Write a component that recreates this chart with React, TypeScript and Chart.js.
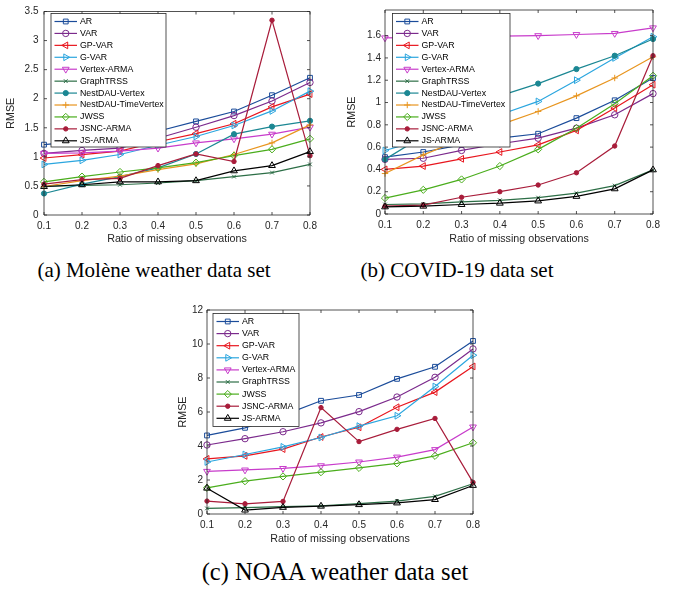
import React, { useEffect, useRef } from 'react';
import { Chart, registerables } from 'chart.js';
import { drawPoint } from 'chart.js/helpers';

Chart.register(...registerables);

// ---------- shared axis values ----------
const ratios = [0.1, 0.2, 0.3, 0.4, 0.5, 0.6, 0.7, 0.8];
const xTickLabels = ['0.1', '0.2', '0.3', '0.4', '0.5', '0.6', '0.7', '0.8'];
const xTitle = 'Ratio of missing observations';
const yTitle = 'RMSE';

// ---------- (a) Molène weather data set ----------
const moleneYTicks = [0, 0.5, 1, 1.5, 2, 2.5, 3, 3.5];
const moleneAR = [1.21, 1.27, 1.34, 1.44, 1.61, 1.78, 2.06, 2.36];
const moleneVAR = [1.06, 1.11, 1.15, 1.32, 1.51, 1.71, 1.96, 2.28];
const moleneGPVAR = [0.98, 1.04, 1.1, 1.26, 1.4, 1.57, 1.86, 2.08];
const moleneGVAR = [0.87, 0.94, 1.04, 1.2, 1.35, 1.54, 1.79, 2.13];
const moleneVertexARMA = [1.06, 1.07, 1.1, 1.15, 1.24, 1.31, 1.39, 1.51];
const moleneGraphTRSS = [0.49, 0.51, 0.52, 0.55, 0.59, 0.66, 0.73, 0.87];
const moleneNestDAUVertex = [0.37, 0.53, 0.66, 0.81, 1.05, 1.39, 1.52, 1.62];
const moleneNestDAUTimeVertex = [0.49, 0.59, 0.67, 0.78, 0.88, 1.04, 1.24, 1.55];
const moleneJWSS = [0.57, 0.66, 0.74, 0.81, 0.9, 1.02, 1.13, 1.31];
const moleneJSNCARMA = [0.53, 0.61, 0.63, 0.85, 1.05, 0.92, 3.35, 1.02];
const moleneJSARMA = [0.49, 0.52, 0.57, 0.57, 0.59, 0.76, 0.85, 1.09];

// ---------- (b) COVID-19 data set ----------
const covidYTicks = [0, 0.2, 0.4, 0.6, 0.8, 1, 1.2, 1.4, 1.6];
const covidAR = [0.51, 0.556, 0.62, 0.68, 0.72, 0.86, 1.02, 1.22];
const covidVAR = [0.49, 0.5, 0.57, 0.63, 0.68, 0.77, 0.89, 1.08];
const covidGPVAR = [0.4, 0.43, 0.495, 0.556, 0.62, 0.75, 0.95, 1.16];
const covidGVAR = [0.57, 0.67, 0.78, 0.89, 1.01, 1.2, 1.4, 1.59];
const covidVertexARMA = [1.58, 1.585, 1.59, 1.595, 1.6, 1.61, 1.62, 1.67];
const covidGraphTRSS = [0.085, 0.09, 0.108, 0.123, 0.147, 0.187, 0.255, 0.396];
const covidNestDAUVertex = [0.49, 0.7, 0.9, 1.06, 1.17, 1.3, 1.42, 1.57];
const covidNestDAUTimeVertex = [0.363, 0.53, 0.67, 0.8, 0.92, 1.06, 1.22, 1.41];
const covidJWSS = [0.143, 0.217, 0.31, 0.43, 0.58, 0.77, 0.99, 1.24];
const covidJSNCARMA = [0.07, 0.08, 0.15, 0.2, 0.26, 0.37, 0.61, 1.42];
const covidJSARMA = [0.064, 0.07, 0.085, 0.097, 0.117, 0.158, 0.226, 0.396];

// ---------- (c) NOAA weather data set ----------
const noaaYTicks = [0, 2, 4, 6, 8, 10, 12];
const noaaAR = [4.62, 5.07, 5.8, 6.66, 7.0, 7.95, 8.66, 10.18];
const noaaVAR = [4.06, 4.43, 4.84, 5.36, 6.02, 6.88, 8.04, 9.71];
const noaaGPVAR = [3.24, 3.42, 3.82, 4.53, 5.1, 6.28, 7.17, 8.68];
const noaaGVAR = [3.06, 3.5, 3.95, 4.5, 5.17, 5.78, 7.5, 9.34];
const noaaVertexARMA = [2.51, 2.59, 2.68, 2.84, 3.06, 3.35, 3.79, 5.12];
const noaaGraphTRSS = [0.33, 0.38, 0.43, 0.48, 0.61, 0.76, 1.04, 1.78];
const noaaJWSS = [1.54, 1.93, 2.21, 2.46, 2.71, 2.98, 3.42, 4.19];
const noaaJSNCARMA = [0.76, 0.6, 0.74, 6.26, 4.26, 4.98, 5.62, 1.86];
const noaaJSARMA = [1.52, 0.23, 0.39, 0.46, 0.55, 0.65, 0.85, 1.68];

// ---------- captions ----------
const captionA = '(a) Molène weather data set';
const captionB = '(b) COVID-19 data set';
const captionC = '(c) NOAA weather data set';

// ---------- styles (marker / colour per method) ----------
type Style = { color: string; shape: string; rot: number; r: number; fill: boolean };
const STYLES: Record<string, Style> = {
  'AR': { color: '#1b4c9a', shape: 'rect', rot: 0, r: 3.4, fill: false },
  'VAR': { color: '#7b2a8c', shape: 'circle', rot: 0, r: 3.2, fill: false },
  'GP-VAR': { color: '#e8161e', shape: 'triangle', rot: -90, r: 3.9, fill: false },
  'G-VAR': { color: '#2ba6df', shape: 'triangle', rot: 90, r: 3.9, fill: false },
  'Vertex-ARMA': { color: '#c83ccb', shape: 'triangle', rot: 180, r: 3.9, fill: false },
  'GraphTRSS': { color: '#2c6e46', shape: 'crossRot', rot: 0, r: 2.6, fill: false },
  'NestDAU-Vertex': { color: '#1b8793', shape: 'circle', rot: 0, r: 2.6, fill: true },
  'NestDAU-TimeVertex': { color: '#e8951f', shape: 'cross', rot: 0, r: 3.2, fill: false },
  'JWSS': { color: '#4aad1c', shape: 'rectRot', rot: 0, r: 3.6, fill: false },
  'JSNC-ARMA': { color: '#a81c3a', shape: 'circle', rot: 0, r: 2.2, fill: true },
  'JS-ARMA': { color: '#000000', shape: 'triangle', rot: 0, r: 3.9, fill: false },
};

const seriesA = [
  { name: 'AR', values: moleneAR },
  { name: 'VAR', values: moleneVAR },
  { name: 'GP-VAR', values: moleneGPVAR },
  { name: 'G-VAR', values: moleneGVAR },
  { name: 'Vertex-ARMA', values: moleneVertexARMA },
  { name: 'GraphTRSS', values: moleneGraphTRSS },
  { name: 'NestDAU-Vertex', values: moleneNestDAUVertex },
  { name: 'NestDAU-TimeVertex', values: moleneNestDAUTimeVertex },
  { name: 'JWSS', values: moleneJWSS },
  { name: 'JSNC-ARMA', values: moleneJSNCARMA },
  { name: 'JS-ARMA', values: moleneJSARMA },
];
const seriesB = [
  { name: 'AR', values: covidAR },
  { name: 'VAR', values: covidVAR },
  { name: 'GP-VAR', values: covidGPVAR },
  { name: 'G-VAR', values: covidGVAR },
  { name: 'Vertex-ARMA', values: covidVertexARMA },
  { name: 'GraphTRSS', values: covidGraphTRSS },
  { name: 'NestDAU-Vertex', values: covidNestDAUVertex },
  { name: 'NestDAU-TimeVertex', values: covidNestDAUTimeVertex },
  { name: 'JWSS', values: covidJWSS },
  { name: 'JSNC-ARMA', values: covidJSNCARMA },
  { name: 'JS-ARMA', values: covidJSARMA },
];
const seriesC = [
  { name: 'AR', values: noaaAR },
  { name: 'VAR', values: noaaVAR },
  { name: 'GP-VAR', values: noaaGPVAR },
  { name: 'G-VAR', values: noaaGVAR },
  { name: 'Vertex-ARMA', values: noaaVertexARMA },
  { name: 'GraphTRSS', values: noaaGraphTRSS },
  { name: 'JWSS', values: noaaJWSS },
  { name: 'JSNC-ARMA', values: noaaJSNCARMA },
  { name: 'JS-ARMA', values: noaaJSARMA },
];

const SANS = '"Liberation Sans", Arial, Helvetica, sans-serif';
const AXIS_COLOR = '#262626';

function fmt(v: number) {
  return String(Math.round(v * 100) / 100);
}

// box + inward ticks (MATLAB style)
const framePlugin = {
  id: 'mframe',
  afterDatasetsDraw(chart: any) {
    const { ctx, chartArea } = chart;
    const { left, right, top, bottom } = chartArea;
    const xs = chart.scales.x;
    const ys = chart.scales.y;
    const tl = 3;
    ctx.save();
    ctx.strokeStyle = AXIS_COLOR;
    ctx.lineWidth = 0.8;
    ctx.beginPath();
    ctx.rect(left, top, right - left, bottom - top);
    for (const t of xs.ticks) {
      const px = xs.getPixelForValue(t.value);
      ctx.moveTo(px, bottom);
      ctx.lineTo(px, bottom - tl);
      ctx.moveTo(px, top);
      ctx.lineTo(px, top + tl);
    }
    for (const t of ys.ticks) {
      const py = ys.getPixelForValue(t.value);
      ctx.moveTo(left, py);
      ctx.lineTo(left + tl, py);
      ctx.moveTo(right, py);
      ctx.lineTo(right - tl, py);
    }
    ctx.stroke();
    ctx.restore();
  },
};

// MATLAB-like legend box inside the axes
const legendPlugin = {
  id: 'mlegend',
  afterDraw(chart: any, _args: any, opts: any) {
    if (!opts || !opts.box) return;
    const { ctx } = chart;
    const b = opts.box;
    ctx.save();
    ctx.fillStyle = '#ffffff';
    ctx.fillRect(b.x, b.y, b.w, b.h);
    ctx.strokeStyle = AXIS_COLOR;
    ctx.lineWidth = 0.8;
    ctx.strokeRect(b.x, b.y, b.w, b.h);
    ctx.font = `${opts.fontSize}px ${SANS}`;
    ctx.textBaseline = 'middle';
    ctx.textAlign = 'left';
    chart.data.datasets.forEach((ds: any, i: number) => {
      const st = STYLES[ds.label];
      const y = b.y + opts.firstDy + i * opts.rowH;
      const x1 = b.x + opts.lineX1;
      const x2 = b.x + opts.lineX2;
      ctx.strokeStyle = st.color;
      ctx.lineWidth = 1.2;
      ctx.beginPath();
      ctx.moveTo(x1, y);
      ctx.lineTo(x2, y);
      ctx.stroke();
      ctx.lineWidth = 1;
      ctx.fillStyle = st.fill ? st.color : 'rgba(0,0,0,0)';
      drawPoint(ctx, { pointStyle: st.shape, rotation: st.rot, radius: st.r, borderWidth: 1 } as any, (x1 + x2) / 2, y);
      ctx.fillStyle = '#000000';
      ctx.fillText(ds.label, b.x + opts.textX, y);
    });
    ctx.restore();
  },
};

type Panel = {
  series: { name: string; values: number[] }[];
  yTicks: number[];
  yMax: number;
  left: number;
  top: number;
  width: number;
  height: number;
  yAxisW: number;
  xAxisH: number;
  padTop: number;
  padRight: number;
  yTickPad: number;
  yTitlePad: number;
  legend: any;
};

function MatlabPlot({ p }: { p: Panel }) {
  const ref = useRef<HTMLCanvasElement | null>(null);
  useEffect(() => {
    if (!ref.current) return;
    const n = p.series.length;
    const datasets = p.series.map((s, i) => {
      const st = STYLES[s.name];
      return {
        label: s.name,
        data: ratios.map((x, j) => ({ x, y: s.values[j] })),
        borderColor: st.color,
        backgroundColor: st.fill ? st.color : 'rgba(0,0,0,0)',
        borderWidth: 1.2,
        pointStyle: st.shape,
        pointRotation: st.rot,
        pointRadius: st.r,
        pointBorderWidth: 1,
        pointBorderColor: st.color,
        pointBackgroundColor: st.fill ? st.color : 'rgba(0,0,0,0)',
        tension: 0,
        fill: false,
        clip: false,
        order: n - i,
      };
    });
    const tickFont = { family: SANS, size: 10 };
    const titleFont = { family: SANS, size: 10.7 };
    const chart = new Chart(ref.current, {
      type: 'line',
      data: { datasets },
      options: {
        animation: false,
        responsive: false,
        maintainAspectRatio: false,
        devicePixelRatio: 1,
        events: [],
        layout: { padding: { left: 0, right: p.padRight, top: p.padTop, bottom: 0 } },
        plugins: {
          legend: { display: false },
          tooltip: { enabled: false },
          mlegend: p.legend,
        },
        scales: {
          x: {
            type: 'linear',
            min: 0.1,
            max: 0.8,
            afterBuildTicks: (s: any) => {
              s.ticks = ratios.map((v) => ({ value: v }));
            },
            afterFit: (s: any) => {
              s.height = p.xAxisH;
            },
            grid: { display: false, drawTicks: false, tickLength: 0 },
            border: { display: false },
            ticks: {
              padding: 5,
              color: AXIS_COLOR,
              font: tickFont,
              maxRotation: 0,
              autoSkip: false,
              callback: (v: any) => {
                const idx = ratios.findIndex((r) => Math.abs(r - Number(v)) < 1e-9);
                return idx >= 0 ? xTickLabels[idx] : '';
              },
            },
            title: {
              display: true,
              text: xTitle,
              color: AXIS_COLOR,
              font: titleFont,
              padding: { top: 0, bottom: 4.6 },
            },
          },
          y: {
            type: 'linear',
            min: 0,
            max: p.yMax,
            afterBuildTicks: (s: any) => {
              s.ticks = p.yTicks.map((v) => ({ value: v }));
            },
            afterFit: (s: any) => {
              s.width = p.yAxisW;
            },
            grid: { display: false, drawTicks: false, tickLength: 0 },
            border: { display: false },
            ticks: {
              padding: p.yTickPad,
              color: AXIS_COLOR,
              font: tickFont,
              autoSkip: false,
              callback: (v: any) => fmt(Number(v)),
            },
            title: {
              display: true,
              text: yTitle,
              color: AXIS_COLOR,
              font: titleFont,
              padding: { top: p.yTitlePad, bottom: 0 },
            },
          },
        },
      } as any,
      plugins: [framePlugin, legendPlugin],
    });
    return () => chart.destroy();
  }, [p]);
  return (
    <canvas
      ref={ref}
      width={p.width}
      height={p.height}
      style={{ position: 'absolute', left: p.left, top: p.top, width: p.width, height: p.height }}
    />
  );
}

const legendCommon = { fontSize: 8.8, firstDy: 8, rowH: 11.93, lineX1: 3.5, lineX2: 26, textX: 29 };

const panelA: Panel = {
  series: seriesA,
  yTicks: moleneYTicks,
  yMax: 3.5,
  left: 0,
  top: 0,
  width: 330,
  height: 250,
  yAxisW: 44,
  xAxisH: 35,
  padTop: 7,
  padRight: 20,
  yTickPad: 5.5,
  yTitlePad: 4.6,
  legend: { ...legendCommon, box: { x: 51, y: 13.5, w: 115, h: 133.5 } },
};

const panelB: Panel = {
  series: seriesB,
  yTicks: covidYTicks,
  yMax: 1.83,
  left: 340,
  top: 0,
  width: 338,
  height: 250,
  yAxisW: 45,
  xAxisH: 36,
  padTop: 6,
  padRight: 25,
  yTickPad: 4,
  yTitlePad: 5.3,
  legend: { ...legendCommon, box: { x: 392.5 - 340, y: 13.5, w: 117.5, h: 133.5 } },
};

const panelC: Panel = {
  series: seriesC,
  yTicks: noaaYTicks,
  yMax: 12,
  left: 172,
  top: 300,
  width: 323,
  height: 250,
  yAxisW: 35,
  xAxisH: 36,
  padTop: 8,
  padRight: 22,
  yTickPad: 4,
  yTitlePad: 5.1,
  legend: { ...legendCommon, rowH: 12.1, box: { x: 213 - 172, y: 313.5 - 300, w: 86, h: 113 } },
};

function Caption({ text, cx, baseline, size }: { text: string; cx: number; baseline: number; size: number }) {
  const lh = Math.round(size * 1.2);
  // baseline offset inside line box for Liberation Serif (ascent .891, descent .216)
  const top = baseline - ((lh - 1.107 * size) / 2 + 0.891 * size);
  return (
    <div
      style={{
        position: 'absolute',
        left: cx - 250,
        top,
        width: 500,
        height: lh,
        lineHeight: `${lh}px`,
        textAlign: 'center',
        fontFamily: '"Liberation Serif", "Times New Roman", serif',
        fontSize: size,
        color: '#000',
        whiteSpace: 'nowrap',
      }}
    >
      {text}
    </div>
  );
}

export default function App() {
  return (
    <div
      style={{
        position: 'absolute',
        left: 0,
        top: 0,
        width: 678,
        height: 589,
        background: '#ffffff',
        overflow: 'hidden',
      }}
    >
      <MatlabPlot p={panelA} />
      <MatlabPlot p={panelB} />
      <MatlabPlot p={panelC} />
      <Caption text={captionA} cx={154} baseline={278} size={21} />
      <Caption text={captionB} cx={457} baseline={278} size={21} />
      <Caption text={captionC} cx={335} baseline={580} size={24.5} />
    </div>
  );
}
